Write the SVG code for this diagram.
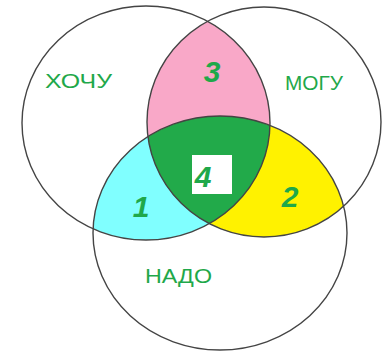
<svg xmlns="http://www.w3.org/2000/svg" width="382" height="351" viewBox="0 0 382 351">
<style>
.ol{fill:none;stroke:#444;stroke-width:1.4}
.lbl{font-family:"Liberation Sans",Arial,sans-serif;font-size:20px;fill:#1fa84a}
.num{font-family:"Liberation Sans",Arial,sans-serif;font-size:30px;font-weight:bold;font-style:italic;fill:#1fa84a;text-anchor:middle}
</style>
<defs>
<clipPath id="cL"><ellipse cx="146" cy="123" rx="124" ry="117"/></clipPath>
<clipPath id="cR"><ellipse cx="264" cy="122" rx="117" ry="115"/></clipPath>
<clipPath id="cB"><ellipse cx="220" cy="233" rx="127" ry="117"/></clipPath>
</defs>
<rect width="382" height="351" fill="#fff"/>
<g id="regions">
<g id="region3" clip-path="url(#cL)"><ellipse cx="264" cy="122" rx="117" ry="115" fill="#f9a8c8"/></g>
<g id="region1" clip-path="url(#cL)"><ellipse cx="220" cy="233" rx="127" ry="117" fill="#80ffff"/></g>
<g id="region2" clip-path="url(#cR)"><ellipse cx="220" cy="233" rx="127" ry="117" fill="#fff200"/></g>
<g id="region4" clip-path="url(#cL)"><g clip-path="url(#cR)"><ellipse cx="220" cy="233" rx="127" ry="117" fill="#22aa4a"/></g></g>
</g>
<g id="hochu"><ellipse class="ol" cx="146" cy="123" rx="124" ry="117"/><text class="lbl" x="45" y="88" textLength="67" lengthAdjust="spacingAndGlyphs">ХОЧУ</text></g>
<g id="mogu"><ellipse class="ol" cx="264" cy="122" rx="117" ry="115"/><text class="lbl" x="285" y="90" textLength="58" lengthAdjust="spacingAndGlyphs">МОГУ</text></g>
<g id="nado"><ellipse class="ol" cx="220" cy="233" rx="127" ry="117"/><text class="lbl" x="145" y="283" textLength="67" lengthAdjust="spacingAndGlyphs">НАДО</text></g>
<g id="n3"><text class="num" x="212" y="82">3</text></g>
<g id="n1"><text class="num" x="141" y="217">1</text></g>
<g id="n2"><text class="num" x="290" y="207">2</text></g>
<g id="n4"><rect x="192" y="155" width="40" height="39" fill="#fff"/><text class="num" x="203" y="187">4</text></g>
</svg>
